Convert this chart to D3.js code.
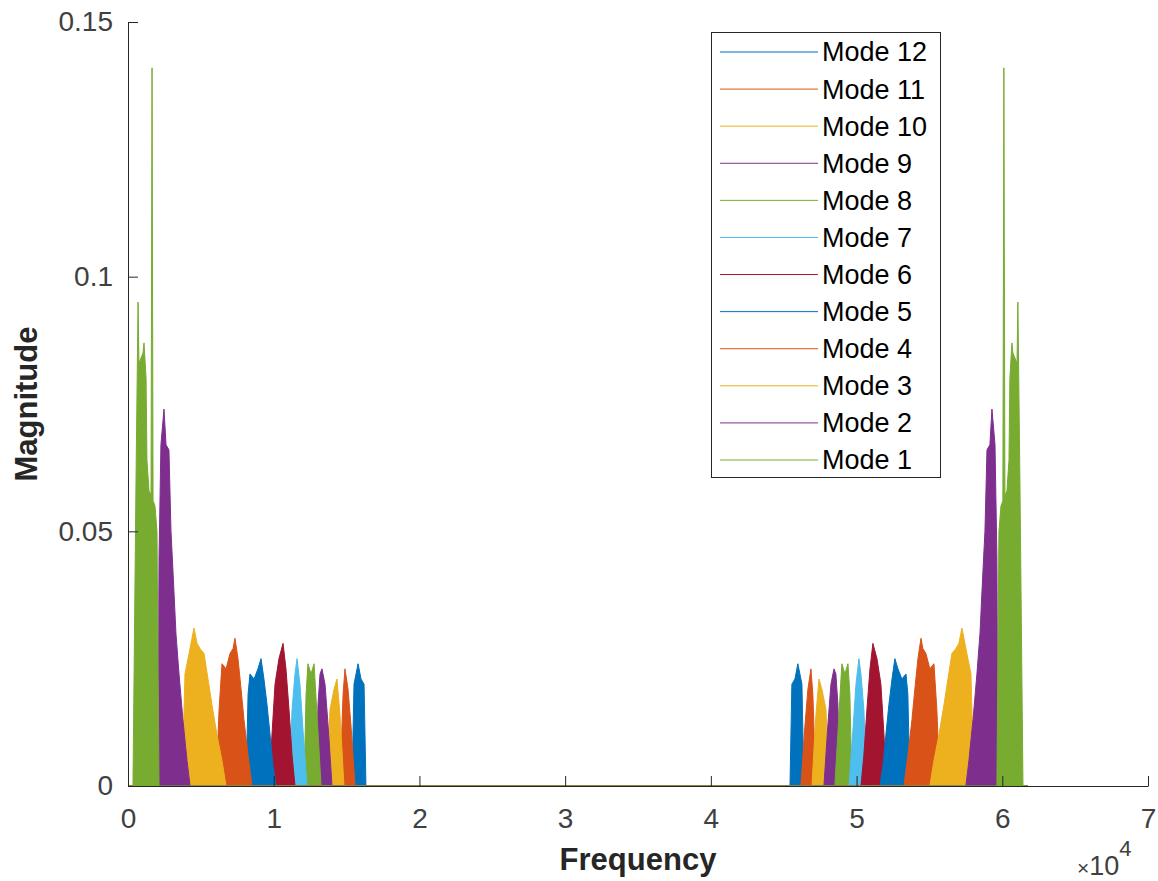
<!DOCTYPE html>
<html>
<head>
<meta charset="utf-8">
<script src="https://cdn.jsdelivr.net/npm/d3@7"></script>
<style>
  html, body { margin: 0; padding: 0; background: #fff; }
  svg { display: block; font-family: "Liberation Sans", Arial, sans-serif; }
</style>
</head>
<body>
<div id="chart"></div>
<script>
// spectrum envelopes: [frequency (Hz), magnitude]
const mode1 = [[0,0],[340,0],[550,0.06],[690,0.095],[750,0.083],[1030,0.085],[1100,0.087],[1240,0.08],[1300,0.064],[1440,0.058],[1580,0.057],[1650,0.141],[1720,0.056],[1850,0.055],[1990,0.05],[2130,0],
  [59630,0],[59770,0.05],[59910,0.055],[60040,0.056],[60110,0.141],[60180,0.057],[60320,0.058],[60460,0.064],[60520,0.08],[60660,0.087],[60730,0.085],[61010,0.083],[61070,0.095],[61210,0.06],[61420,0],[61760,0]];
const mode2 = [[0,0],[2060,0],[2130,0.045],[2260,0.067],[2470,0.074],[2610,0.067],[2810,0.066],[2950,0.05],[3090,0.042],[3290,0.03],[3500,0.022],[3770,0.013],[4050,0.005],[4260,0],
  [57500,0],[57710,0.005],[57990,0.013],[58260,0.022],[58470,0.03],[58670,0.042],[58810,0.05],[58950,0.066],[59150,0.067],[59290,0.074],[59500,0.067],[59630,0.045],[59700,0],[61760,0]];
const mode3 = [[0,0],[3710,0],[3910,0.022],[4190,0.026],[4390,0.029],[4530,0.031],[4740,0.028],[4940,0.027],[5220,0.026],[5490,0.021],[5760,0.016],[6110,0.01],[6450,0.005],[6730,0],
  [55030,0],[55310,0.005],[55650,0.01],[56000,0.016],[56270,0.021],[56540,0.026],[56820,0.027],[57020,0.028],[57230,0.031],[57370,0.029],[57570,0.026],[57850,0.022],[58050,0],[61760,0]];
const mode4 = [[0,0],[6040,0],[6250,0.015],[6450,0.024],[6730,0.023],[7000,0.026],[7210,0.027],[7340,0.029],[7550,0.025],[7760,0.019],[7960,0.013],[8240,0.006],[8510,0],
  [53250,0],[53520,0.006],[53800,0.013],[54000,0.019],[54210,0.025],[54420,0.029],[54550,0.027],[54760,0.026],[55030,0.023],[55310,0.024],[55510,0.015],[55720,0],[61760,0]];
const mode5 = [[0,0],[8100,0],[8240,0.018],[8370,0.022],[8650,0.021],[8920,0.023],[9130,0.025],[9330,0.021],[9540,0.016],[9750,0.01],[9950,0.004],[10160,0],
  [51600,0],[51810,0.004],[52010,0.01],[52220,0.016],[52430,0.021],[52630,0.025],[52840,0.023],[53110,0.021],[53390,0.022],[53520,0.018],[53660,0],[61760,0]];
const mode6 = [[0,0],[9680,0],[9880,0.01],[10090,0.02],[10360,0.025],[10640,0.028],[10840,0.023],[11050,0.015],[11260,0.006],[11460,0],
  [50300,0],[50500,0.006],[50710,0.015],[50920,0.023],[51120,0.028],[51400,0.025],[51670,0.02],[51880,0.01],[52080,0],[61760,0]];
const mode7 = [[0,0],[11050,0],[11260,0.015],[11460,0.022],[11600,0.025],[11800,0.02],[12010,0.011],[12280,0],
  [49480,0],[49750,0.011],[49960,0.02],[50160,0.025],[50300,0.022],[50500,0.015],[50710,0],[61760,0]];
const mode8 = [[0,0],[12080,0],[12220,0.018],[12350,0.024],[12560,0.022],[12770,0.024],[12970,0.014],[13250,0],
  [48510,0],[48790,0.014],[48990,0.024],[49200,0.022],[49410,0.024],[49540,0.018],[49680,0],[61760,0]];
const mode9 = [[0,0],[12900,0],[13040,0.016],[13180,0.022],[13310,0.023],[13520,0.02],[13730,0.012],[14000,0],
  [47760,0],[48030,0.012],[48240,0.02],[48450,0.023],[48580,0.022],[48720,0.016],[48860,0],[61760,0]];
const mode10 = [[0,0],[13660,0],[13860,0.015],[14140,0.019],[14340,0.021],[14550,0.014],[14820,0],
  [46940,0],[47210,0.014],[47420,0.021],[47620,0.019],[47900,0.015],[48100,0],[61760,0]];
const mode11 = [[0,0],[14550,0],[14760,0.018],[14890,0.023],[15100,0.019],[15300,0.012],[15580,0],
  [46180,0],[46460,0.012],[46660,0.019],[46870,0.023],[47000,0.018],[47210,0],[61760,0]];
const mode12 = [[0,0],[15370,0],[15510,0.02],[15650,0.022],[15790,0.024],[15990,0.021],[16200,0.02],[16330,0],
  [45430,0],[45560,0.02],[45770,0.021],[45970,0.024],[46110,0.022],[46250,0.02],[46390,0],[61760,0]];

// plot order (legend order): Mode 12 first, Mode 1 last
const seriesNames = ["Mode 12","Mode 11","Mode 10","Mode 9","Mode 8","Mode 7","Mode 6","Mode 5","Mode 4","Mode 3","Mode 2","Mode 1"];
const seriesData = [mode12, mode11, mode10, mode9, mode8, mode7, mode6, mode5, mode4, mode3, mode2, mode1];
const colors = ["#0072BD","#D95319","#EDB120","#7E2F8E","#77AC30","#4DBEEE","#A2142F"];

const xTicks = [0,10000,20000,30000,40000,50000,60000,70000];
const yTicks = [0,0.05,0.1,0.15];

const width = 1158, height = 881;
const margin = {top: 22, right: 10, bottom: 95, left: 128};
const axisColor = "#262626";
const labelColor = "#404040";

const x = d3.scaleLinear().domain([0, 70000]).range([margin.left, width - margin.right]);
const y = d3.scaleLinear().domain([0, 0.15]).range([height - margin.bottom, margin.top]);

const svg = d3.select("#chart").append("svg")
  .attr("width", width)
  .attr("height", height);

const area = d3.area()
  .x(d => x(d[0]))
  .y0(y(0))
  .y1(d => y(d[1]));
const line = d3.line()
  .x(d => x(d[0]))
  .y(d => y(d[1]));

const plot = svg.append("g").attr("class", "series");
seriesData.forEach((data, i) => {
  const c = colors[i % colors.length];
  plot.append("path")
    .attr("d", area(data))
    .attr("fill", c);
  plot.append("path")
    .attr("d", line(data))
    .attr("fill", "none")
    .attr("stroke", c)
    .attr("stroke-width", 1);
});

// axes, ticks pointing inward like MATLAB
const xAxis = svg.append("g")
  .attr("transform", `translate(0,${y(0)})`)
  .call(d3.axisBottom(x).tickValues(xTicks).tickFormat(d => d / 10000)
    .tickSizeInner(-10).tickSizeOuter(0).tickPadding(22));
const yAxis = svg.append("g")
  .attr("transform", `translate(${x(0)},0)`)
  .call(d3.axisLeft(y).tickValues(yTicks).tickFormat(d => d)
    .tickSizeInner(-10).tickSizeOuter(0).tickPadding(15));

[xAxis, yAxis].forEach(g => {
  g.select(".domain").attr("stroke", axisColor).attr("stroke-width", 1);
  g.selectAll(".tick line").attr("stroke", axisColor);
  g.selectAll(".tick text")
    .attr("fill", labelColor)
    .style("font-size", "28px")
    .style("font-family", "Liberation Sans, Arial, sans-serif");
});

// exponent label
const expo = svg.append("text")
  .attr("x", 1077)
  .attr("y", 875)
  .attr("fill", labelColor)
  .style("font-size", "27px");
expo.append("tspan").style("font-size", "21px").text("\u00d7");
expo.append("tspan").text("10");
expo.append("tspan").attr("dy", -19).style("font-size", "22px").text("4");

// axis titles
svg.append("text")
  .attr("x", (x(0) + x(70000)) / 2)
  .attr("y", 870)
  .attr("text-anchor", "middle")
  .attr("fill", axisColor)
  .style("font-size", "31px")
  .style("font-weight", "bold")
  .text("Frequency");

svg.append("text")
  .attr("transform", `translate(37,${(y(0) + y(0.15)) / 2}) rotate(-90)`)
  .attr("text-anchor", "middle")
  .attr("fill", axisColor)
  .style("font-size", "31px")
  .style("font-weight", "bold")
  .text("Magnitude");

// legend
const legend = svg.append("g").attr("class", "legend");
legend.append("rect")
  .attr("x", 711.5)
  .attr("y", 32.5)
  .attr("width", 229)
  .attr("height", 445)
  .attr("fill", "#fff")
  .attr("stroke", axisColor)
  .attr("stroke-width", 1);

const rowY = d3.scaleLinear().domain([0, 11]).range([52, 460]);
seriesNames.forEach((name, i) => {
  const c = colors[i % colors.length];
  legend.append("line")
    .attr("x1", 720).attr("x2", 818)
    .attr("y1", rowY(i)).attr("y2", rowY(i))
    .attr("stroke", c)
    .attr("stroke-width", 1);
  legend.append("text")
    .attr("x", 822)
    .attr("y", rowY(i))
    .attr("dy", "0.35em")
    .attr("fill", "#000")
    .style("font-size", "27px")
    .text(name);
});
</script>
</body>
</html>
